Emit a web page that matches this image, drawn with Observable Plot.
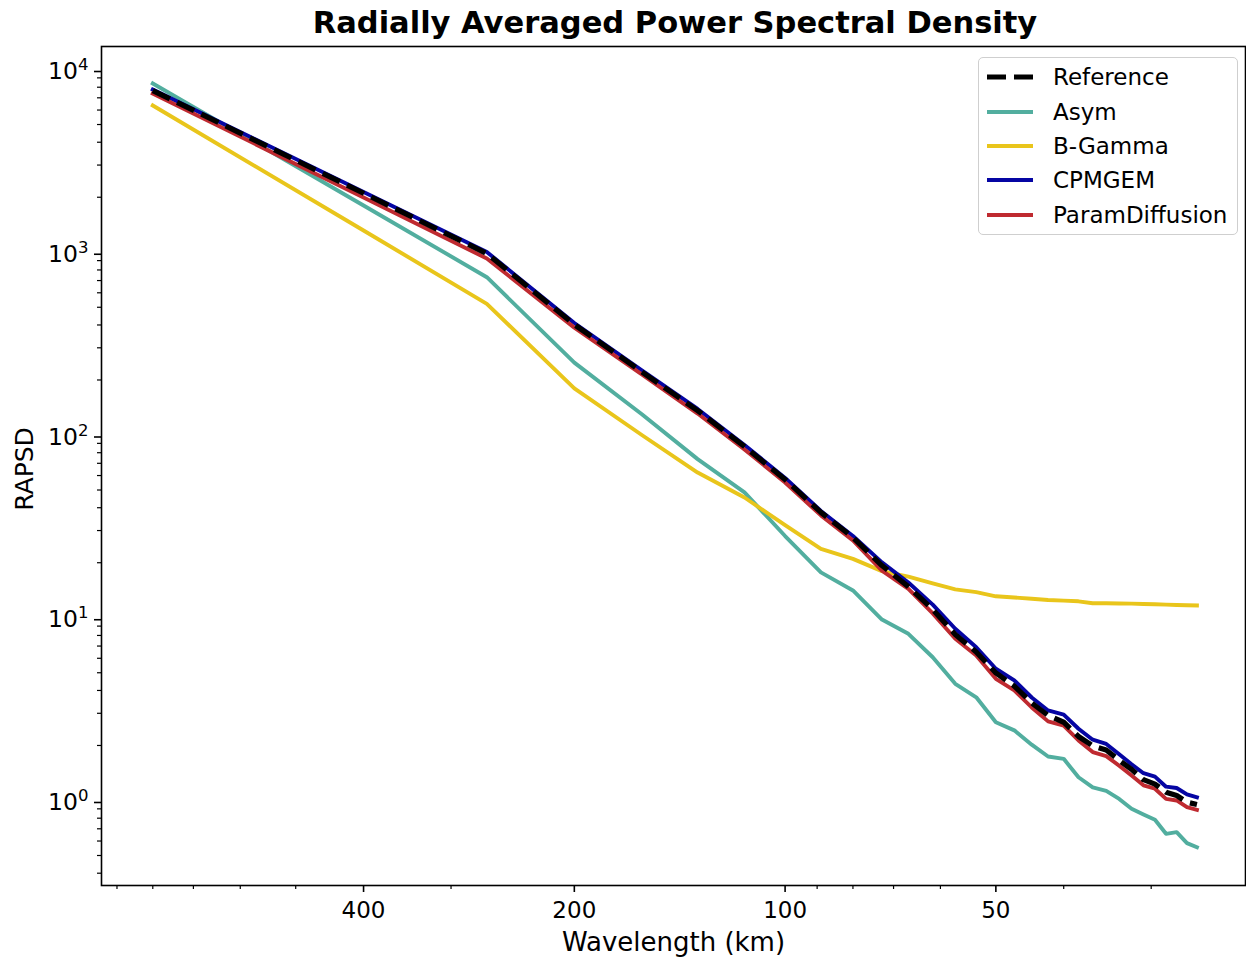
<!DOCTYPE html>
<html>
<head>
<meta charset="utf-8">
<script src="https://cdn.jsdelivr.net/npm/d3@7"></script>
<script src="https://cdn.jsdelivr.net/npm/@observablehq/plot@0.6"></script>
<style>
  body { margin: 0; background: #fff; font-family: "DejaVu Sans", sans-serif; }
  #wrap { position: relative; width: 1246px; height: 959px; overflow: hidden; }
  #title { position: absolute; left: 101px; top: 0; width: 1148px; height: 45px; line-height: 45px;
           text-align: center; font-weight: bold; font-size: 30.5px; color: #000; }
  #chart { position: absolute; left: 0; top: 45px; }
  #legend { position: absolute; left: 978px; top: 57px; width: 258px; height: 176px;
            border: 1.3px solid #cfcfcf; border-radius: 5px; background: rgba(255,255,255,0.8); }
  .row { position: absolute; left: 0; height: 34px; width: 258px; }
  .row svg { position: absolute; left: 8px; top: 13px; }
  .row span { position: absolute; left: 74px; top: 0; line-height: 34px; font-size: 23px; color: #000; white-space: nowrap; }
</style>
</head>
<body>
<div id="wrap">
  <div id="title">Radially Averaged Power Spectral Density</div>
  <div id="chart"></div>
  <div id="legend"></div>
</div>
<script>
// Wavelength (km) of each spectral bin
const wavelength = [800, 400, 266.67, 200, 160, 133.33, 114.29, 100, 88.89, 80, 72.73, 66.67, 61.54, 57.14, 53.33, 50,
  47.06, 44.44, 42.11, 40, 38.1, 36.36, 34.78, 33.33, 32, 30.77, 29.63, 28.57, 27.59, 26.67, 25.81];

// RAPSD values per series
const reference = [7670, 2104, 984, 402, 221, 136, 86.5, 57.1, 37.7, 27.5, 19.3, 14.8, 11.1, 8.10, 6.50, 4.99,
  4.23, 3.42, 2.92, 2.68, 2.24, 1.99, 1.89, 1.66, 1.48, 1.30, 1.23, 1.11, 1.065, 0.979, 0.951];
const asym = [8383, 1803, 730, 249, 129.5, 73.8, 48.5, 28.0, 17.7, 14.1, 9.78, 8.17, 6.08, 4.35, 3.67, 2.68,
  2.42, 2.02, 1.74, 1.69, 1.34, 1.18, 1.13, 1.02, 0.901, 0.838, 0.784, 0.657, 0.671, 0.584, 0.555];
const bGamma = [6353, 1315, 522, 180, 99.7, 62.3, 45.5, 32.1, 23.8, 21.0, 18.0, 16.8, 15.4, 14.3, 13.8, 13.1,
  12.9, 12.7, 12.5, 12.4, 12.3, 12.0, 12.0, 11.97, 11.94, 11.9, 11.85, 11.8, 11.74, 11.7, 11.67];
const cpmgem = [7775, 2139, 1003, 410, 225, 138.8, 88.2, 58.2, 38.4, 28.0, 20.1, 15.6, 11.8, 8.70, 6.90, 5.26,
  4.54, 3.66, 3.11, 2.95, 2.47, 2.15, 2.04, 1.79, 1.58, 1.41, 1.35, 1.19, 1.17, 1.08, 1.04];
const paramDiffusion = [7390, 1993, 924, 387, 214, 131, 83.3, 55.0, 36.3, 26.5, 18.1, 14.4, 10.55, 7.67, 6.22, 4.63,
  4.00, 3.23, 2.71, 2.57, 2.13, 1.84, 1.75, 1.55, 1.37, 1.21, 1.16, 1.02, 1.00, 0.919, 0.889];

const seriesNames = ["Reference", "Asym", "B-Gamma", "CPMGEM", "ParamDiffusion"];
const seriesColors = ["#000000", "#52ae9f", "#e9c51b", "#0505a3", "#bf2a30"];

// Axis domains and ticks
const xDomain = [947, 22];
const yDomain = [0.3426, 13363];
const xMajorTicks = [400, 200, 100, 50];
const xMinorTicks = [900, 800, 700, 600, 500, 300, 90, 80, 70, 60, 40, 30];
const yMajorTicks = [1, 10, 100, 1000, 10000];
const yMinorTicks = [];
for (let e = -1; e <= 3; e++) for (let m = 2; m <= 9; m++) {
  const v = +(m * Math.pow(10, e)).toPrecision(3);
  if (v > yDomain[0] && v < yDomain[1]) yMinorTicks.push(v);
}

const SW = 3.9;
const lineOf = (vals, color) =>
  Plot.line(vals, {x: wavelength, y: vals, stroke: color, strokeWidth: SW, strokeLinejoin: "round", strokeLinecap: "square"});

const svg = Plot.plot({
  width: 1246,
  height: 914,
  marginLeft: 101,
  marginRight: 1,
  marginTop: 1,
  marginBottom: 74,
  style: {fontFamily: "DejaVu Sans", fontSize: "23px", color: "#000", background: "transparent"},
  x: {type: "log", domain: xDomain, axis: null},
  y: {type: "log", domain: yDomain, axis: null},
  marks: [
    lineOf(asym, seriesColors[1]),
    lineOf(bGamma, seriesColors[2]),
    lineOf(cpmgem, seriesColors[3]),
    lineOf(paramDiffusion, seriesColors[4]),
    Plot.line(reference, {x: wavelength, y: reference, stroke: seriesColors[0], strokeWidth: 5.2,
      strokeDasharray: "19,8", strokeLinejoin: "round", strokeLinecap: "butt"}),
    Plot.frame({stroke: "#000", strokeWidth: 1.6}),
    Plot.axisX({ticks: xMajorTicks, tickFormat: d => String(d), tickSize: 7, tickPadding: 9, strokeWidth: 1.6, label: null, fontSize: 23}),
    Plot.axisX({ticks: xMinorTicks, tickFormat: () => "", tickSize: 4, strokeWidth: 1.2, label: null}),
    Plot.axisY({ticks: yMajorTicks, tickFormat: d => "10^" + Math.round(Math.log10(d)), tickSize: 7, tickPadding: 6, strokeWidth: 1.6, label: null, fontSize: 23.5, dy: 2}),
    Plot.axisY({ticks: yMinorTicks, tickFormat: () => "", tickSize: 4, strokeWidth: 1.2, label: null}),
    Plot.text(["Wavelength (km)"], {frameAnchor: "bottom", dy: 57, lineAnchor: "middle", textAnchor: "middle", fontSize: 26, fill: "#000"}),
    Plot.text(["RAPSD"], {frameAnchor: "left", dx: -77, dy: 3, rotate: -90, lineAnchor: "middle", textAnchor: "middle", fontSize: 25, fill: "#000"})
  ]
});

// Superscript exponents on the y tick labels (10^n)
const NS = "http://www.w3.org/2000/svg";
svg.querySelectorAll("text").forEach(t => {
  const m = (t.textContent || "").match(/^10\^(-?\d+)$/);
  if (m && t.children.length === 0) {
    t.textContent = "10";
    const ts = document.createElementNS(NS, "tspan");
    ts.setAttribute("dy", "-9");
    ts.setAttribute("font-size", "16.5px");
    ts.textContent = m[1];
    t.appendChild(ts);
  }
});
document.getElementById("chart").appendChild(svg);

// Legend
const legend = document.getElementById("legend");
const rowCenters = [19, 53.5, 88, 122, 156.5];
seriesNames.forEach((name, i) => {
  const row = document.createElement("div");
  row.className = "row";
  row.style.top = (rowCenters[i] - 17) + "px";
  const dash = i === 0 ? ' stroke-dasharray="19,8"' : "";
  const w = i === 0 ? 5.2 : SW;
  row.innerHTML = `<svg width="48" height="8"><line x1="0" y1="4" x2="46" y2="4" stroke="${seriesColors[i]}" stroke-width="${w}"${dash}/></svg><span>${name}</span>`;
  legend.appendChild(row);
});
</script>
</body>
</html>
